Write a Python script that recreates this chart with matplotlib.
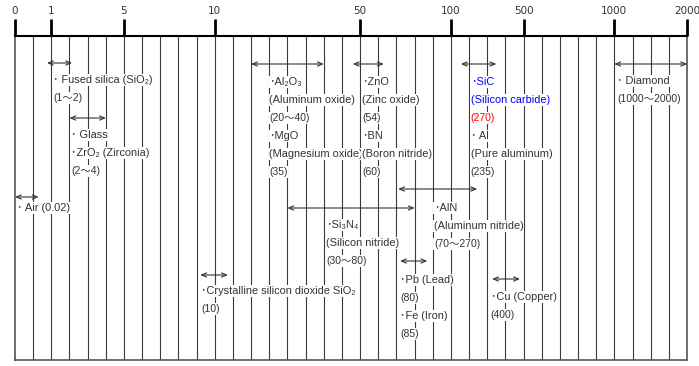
import numpy as np
import matplotlib.pyplot as plt

# ruler: labelled values and the slot (grid line index) each sits on
tick_values = [0, 1, 5, 10, 50, 100, 500, 1000, 2000]
tick_slots = [0, 2, 6, 11, 19, 24, 28, 33, 37]

# materials, their text and the range marked by the arrow (W/m·K)
blocks = [
    ["･ Air (0.02)"],
    ["･ Fused silica (SiO₂)", "(1〜2)"],
    ["･ Glass", "･ZrO₂ (Zirconia)", "(2〜4)"],
    ["･Crystalline silicon dioxide SiO₂", "(10)"],
    ["･Al₂O₃", "(Aluminum oxide)", "(20〜40)", "･MgO", "(Magnesium oxide)", "(35)"],
    ["･Si₃N₄", "(Silicon nitride)", "(30〜80)"],
    ["･ZnO", "(Zinc oxide)", "(54)", "･BN", "(Boron nitride)", "(60)"],
    ["･AlN", "(Aluminum nitride)", "(70〜270)"],
    ["･Pb (Lead)", "(80)", "･Fe (Iron)", "(85)"],
    ["･SiC", "(Silicon carbide)", "(270)", "･ Al", "(Pure aluminum)", "(235)"],
    ["･Cu (Copper)", "(400)"],
    ["･ Diamond", "(1000〜2000)"],
]
arrow_lo = [0, 0.88, 2, 9.2, 20, 30, 48, 71, 72, 155, 327, 1000]
arrow_hi = [0.65, 2.14, 4, 13.6, 40, 80, 63, 245, 87, 350, 480, 2000]

# layout (slot for text, pixel rows for arrow and first text line)
text_slot = [0.11, 2.09, 3.08, 10.24, 14.0, 17.13, 19.1, 23.07, 21.2, 25.1, 26.2, 33.15]
arrow_y = [197, 63, 118, 275, 64, 208, 64, 189, 261, 64, 279, 64]
text_y0 = [208, 80, 135, 291, 82, 225, 82, 208, 280, 82, 297, 81]
line_gap = 18

TXT = '#333333'
FONT = ['Liberation Sans', 'DejaVu Sans', 'Noto Sans CJK JP']


def fwd(v):
    return np.interp(v, tick_values, tick_slots)


def inv(s):
    return np.interp(s, tick_slots, tick_values)


fig = plt.figure(figsize=(6.99, 3.66), dpi=100)
ax = fig.add_axes([15 / 699, 6 / 366, 672 / 699, 324 / 366])
ax.set_xscale('function', functions=(fwd, inv))
ax.set_xlim(0, 2000)
ax.set_ylim(360, 36)

# vertical ruler lines
ax.vlines(inv(np.arange(1, 37)), 36, 360, color='#3a3a3a', lw=0.8, zorder=1)

for sp in ['left', 'right', 'bottom']:
    ax.spines[sp].set_color('#555555')
    ax.spines[sp].set_linewidth(1.2)
ax.spines['top'].set_linewidth(1.5)

ax.xaxis.tick_top()
ax.set_xticks(tick_values)
ax.set_xticklabels([str(v) for v in tick_values])
ax.xaxis.set_minor_locator(plt.NullLocator())
ax.tick_params(axis='x', direction='out', length=12.5, width=2, color='black',
               labelsize=7.5, labelcolor=TXT, pad=2)
ax.set_yticks([])

for i, lines in enumerate(blocks):
    ax.annotate('', xy=(arrow_lo[i], arrow_y[i]), xytext=(arrow_hi[i], arrow_y[i]),
                arrowprops=dict(arrowstyle='<->,head_length=0.35,head_width=0.15',
                                color='#333333', lw=0.8, shrinkA=0, shrinkB=0),
                zorder=2)
    for j, s in enumerate(lines):
        c = TXT
        if i == 9 and j < 2:
            c = '#0000ff'
        elif i == 9 and j == 2:
            c = '#ff0000'
        size = 7.5 if s.startswith('(') and s[1].isdigit() else 7.9
        ax.text(inv(text_slot[i]), text_y0[i] + j * line_gap, s, family=FONT,
                fontsize=size, color=c, ha='left', va='center', zorder=3,
                bbox=dict(facecolor='white', edgecolor='none', pad=0.4))

fig.savefig('out.png', dpi=100)
